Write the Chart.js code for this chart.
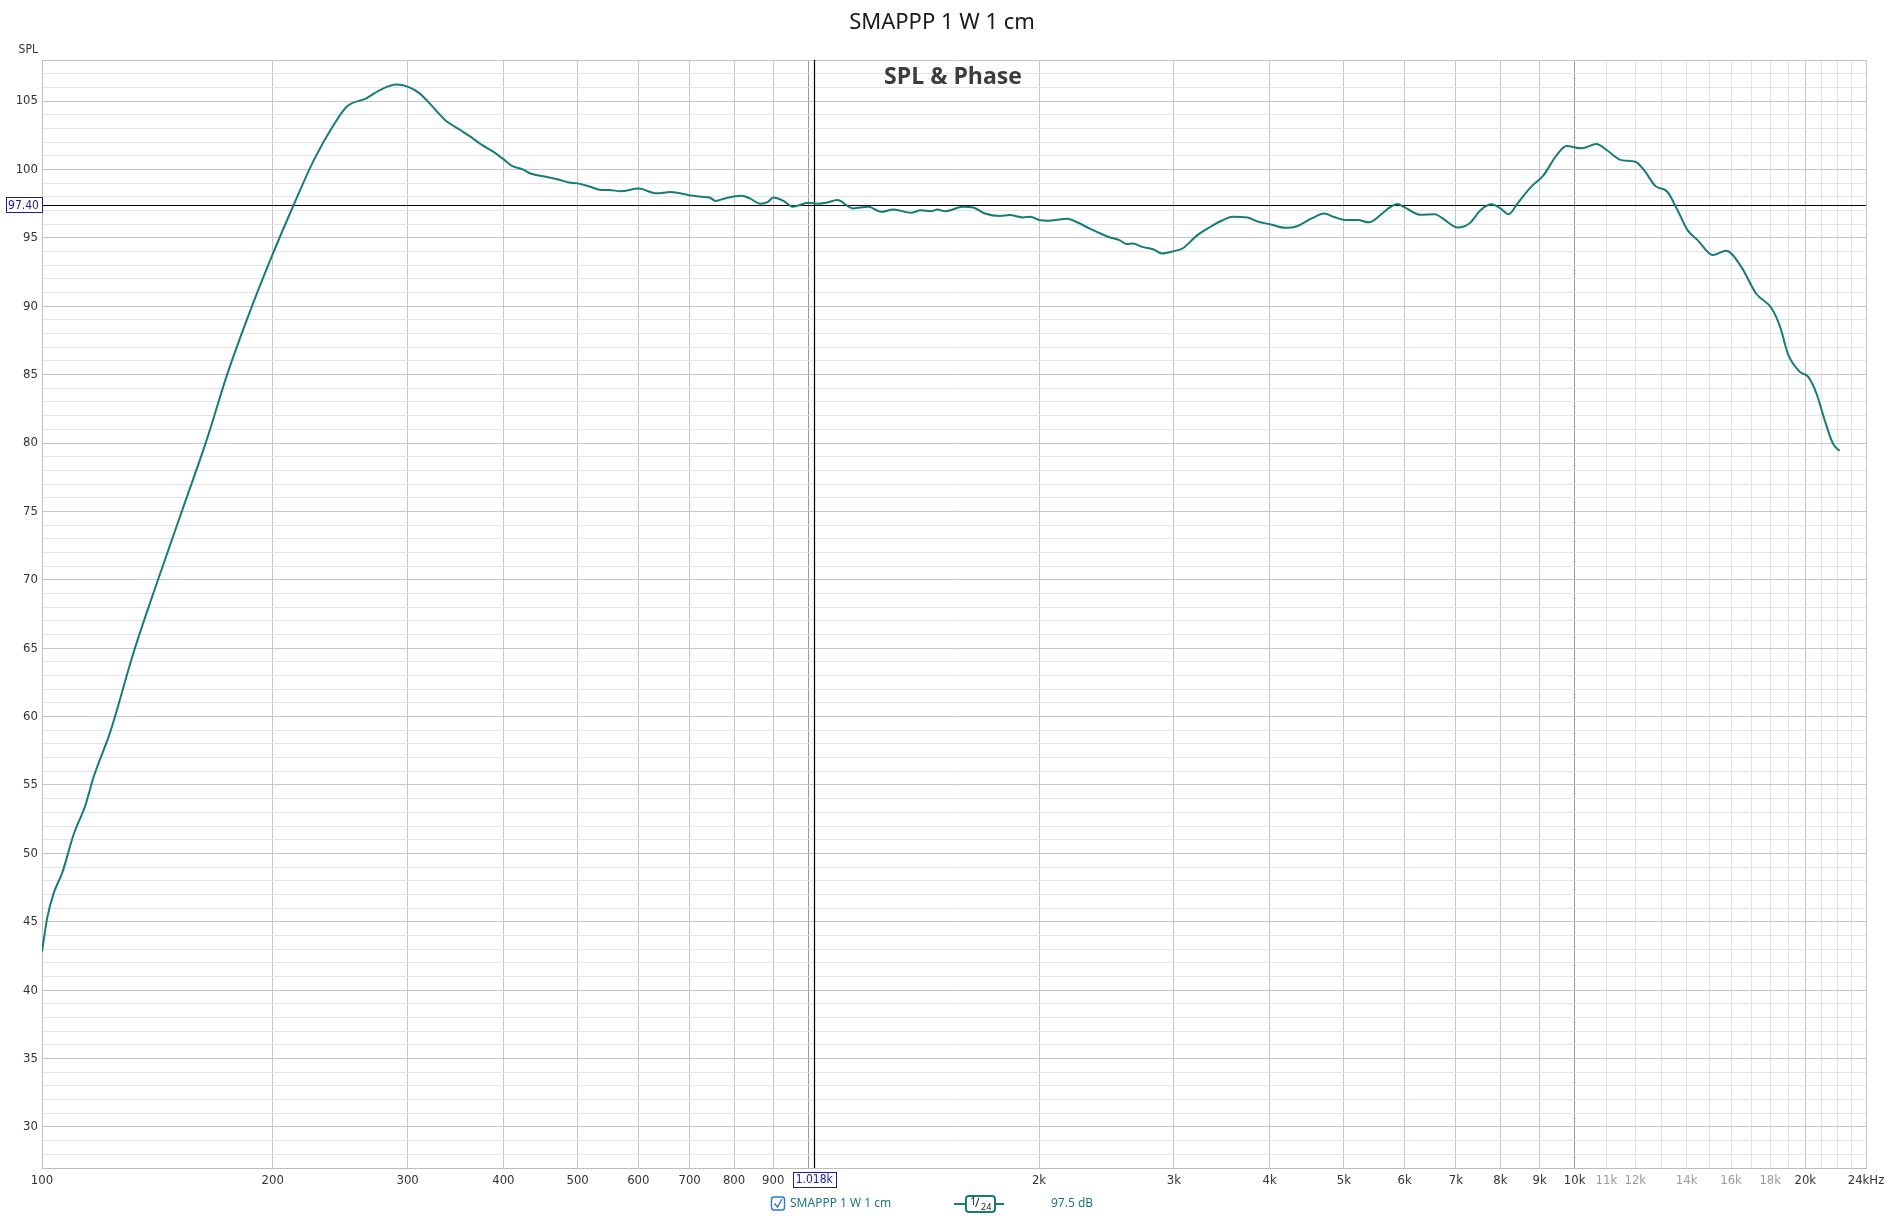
<!DOCTYPE html>
<html>
<head>
<meta charset="utf-8">
<title>SMAPPP 1 W 1 cm</title>
<script src="https://cdn.jsdelivr.net/npm/chart.js@4.4.1/dist/chart.umd.min.js"></script>
<style>
  html, body { margin: 0; padding: 0; background: #fff; }
  #wrap { width: 1886px; height: 1216px; }
</style>
</head>
<body>
<div id="wrap"><canvas id="spl" width="1886" height="1216"></canvas></div>
<script>
// SPL curve (Hz / dB)
const freqs = [100, 101.6, 103.6, 106.3, 110, 113.9, 116.8, 122.8, 131.7, 141.3,
  153.1, 164.2, 174.4, 185.3, 200, 213, 226.4, 240.5, 250, 265,
  276, 290, 300, 311, 322, 336, 351, 361, 375, 388,
  400, 411, 424, 434, 456, 473, 487, 500, 518, 537,
  550, 569, 600, 634, 661, 699, 725, 743, 757, 780,
  819, 839, 865, 886, 900, 928, 954, 1000, 1030, 1055,
  1091, 1144, 1198, 1245, 1291, 1361, 1403, 1447, 1473, 1509,
  1592, 1641, 1700, 1779, 1831, 1906, 1950, 2000, 2058, 2104,
  2175, 2250, 2327, 2460, 2547, 2605, 2651, 2728, 2823, 2895,
  3000, 3077, 3219, 3348, 3461, 3578, 3741, 3866, 4000, 4202,
  4343, 4537, 4716, 4847, 5033, 5210, 5392, 5611, 5739, 5870,
  6003, 6283, 6574, 6726, 7039, 7288, 7543, 7786, 8000, 8200,
  8426, 8760, 9110, 9474, 9760, 10214, 10680, 11010, 11510, 12000,
  12320, 12750, 13210, 13620, 14040, 14470, 15150, 15770, 16500, 17250,
  18080, 18540, 19010, 19680, 20180, 20680, 21200, 21730, 22170]
const spl = [42.8, 45.3, 47.1, 48.6, 51.4, 53.5, 55.6, 58.9, 64.7, 69.8,
  75.4, 80.3, 85.0, 89.1, 93.8, 97.4, 100.7, 103.3, 104.6, 105.2,
  105.8, 106.2, 106.05, 105.56, 104.7, 103.6, 102.9, 102.45, 101.8, 101.3,
  100.75, 100.25, 100.0, 99.7, 99.45, 99.25, 99.05, 98.98, 98.75, 98.5,
  98.5, 98.4, 98.6, 98.25, 98.35, 98.12, 98.0, 97.95, 97.7, 97.9,
  98.07, 97.88, 97.5, 97.63, 97.95, 97.7, 97.27, 97.56, 97.5, 97.56,
  97.76, 97.15, 97.27, 96.9, 97.07, 96.83, 97.02, 96.95, 97.07, 96.95,
  97.27, 97.22, 96.78, 96.6, 96.66, 96.49, 96.54, 96.3, 96.25, 96.3,
  96.39, 96.1, 95.69, 95.08, 94.83, 94.54, 94.59, 94.34, 94.15, 93.86,
  94.03, 94.22, 95.2, 95.81, 96.25, 96.54, 96.49, 96.17, 96.0, 95.73,
  95.85, 96.42, 96.78, 96.54, 96.3, 96.3, 96.13, 96.78, 97.22, 97.47,
  97.22, 96.69, 96.73, 96.42, 95.76, 96.05, 97.03, 97.45, 97.15, 96.73,
  97.52, 98.69, 99.59, 101.05, 101.71, 101.54, 101.86, 101.42, 100.68, 100.56,
  99.95, 98.78, 98.37, 97.03, 95.56, 94.83, 93.74, 94.05, 92.88, 90.93,
  89.83, 88.49, 86.42, 85.2, 84.83, 83.62, 81.66, 79.96, 79.42]

// frequency grid lines and their labels
const xGrid = [100, 200, 300, 400, 500, 600, 700, 800, 900,
  1000, 2000, 3000, 4000, 5000, 6000, 7000, 8000, 9000,
  10000, 11000, 12000, 13000, 14000, 15000, 16000, 17000, 18000, 19000,
  20000, 21000, 22000, 23000, 24000]
const xLabels = {100: '100', 200: '200', 300: '300', 400: '400', 500: '500', 600: '600',
  700: '700', 800: '800', 900: '900', 2000: '2k', 3000: '3k', 4000: '4k', 5000: '5k',
  6000: '6k', 7000: '7k', 8000: '8k', 9000: '9k', 10000: '10k', 11000: '11k',
  12000: '12k', 14000: '14k', 16000: '16k', 18000: '18k', 20000: '20k', 24000: '24kHz'}
const grayLabels = [11000, 12000, 14000, 16000, 18000]
const decades = [1000, 10000]

// cursor readout
const cursorFreq = 1018
const cursorSpl = 97.4
const cursorFreqText = '1.018k'
const cursorSplText = '97.40'
const legendName = 'SMAPPP 1 W 1 cm'
const legendValue = '97.5 dB'

const teal = '#167c78'
const navy = '#1c1c96'
const narrow = '"Liberation Sans Narrow", "DejaVu Sans Condensed", "Noto Sans", sans-serif'

// small framed readout label
function valueBox(ctx, text, cx, cy, minW) {
    const w = Math.max(minW, Math.ceil(ctx.measureText(text).width) + 5)
    const x = Math.round(cx - w / 2) + 0.5
    const y = Math.round(cy - 8) + 0.5
    ctx.fillStyle = '#fff'
    ctx.fillRect(x, y, w, 15)
    ctx.strokeStyle = navy
    ctx.lineWidth = 1
    ctx.strokeRect(x, y, w, 15)
    ctx.fillStyle = navy
    ctx.fillText(text, cx, cy)
}

const overlay = {
    id: 'overlay',
    beforeDatasetsDraw(chart) {
        const ctx = chart.ctx
        const a = chart.chartArea
        const cx = Math.round(chart.scales.x.getPixelForValue(cursorFreq)) + 0.5
        const cy = Math.round(chart.scales.y.getPixelForValue(cursorSpl)) + 0.5
        ctx.save()
        ctx.strokeStyle = '#000'
        ctx.lineWidth = 1.2
        ctx.beginPath()
        ctx.moveTo(a.left, cy); ctx.lineTo(a.right, cy)
        ctx.moveTo(cx, a.top); ctx.lineTo(cx, a.bottom)
        ctx.stroke()
        ctx.restore()
    },
    afterDraw(chart) {
        const ctx = chart.ctx
        const a = chart.chartArea
        const cx = chart.scales.x.getPixelForValue(cursorFreq)
        const cy = chart.scales.y.getPixelForValue(cursorSpl)
        ctx.save()

        // title
        ctx.fillStyle = '#1a1a1a'
        ctx.font = '22px "Noto Sans", sans-serif'
        ctx.textAlign = 'center'
        ctx.textBaseline = 'middle'
        ctx.fillText('SMAPPP 1 W 1 cm', 942, 23)

        // graph name
        ctx.fillStyle = '#3c3c3c'
        ctx.font = 'bold 23px "Open Sans", sans-serif'
        ctx.fillText('SPL & Phase', 953, 77)

        // axis name
        ctx.fillStyle = '#333'
        ctx.font = '12px ' + narrow
        ctx.textAlign = 'right'
        ctx.fillText('SPL', 38, 50)

        // cursor value boxes
        ctx.font = '12px ' + narrow
        ctx.textAlign = 'center'
        valueBox(ctx, cursorSplText, 23.5, cy + 0.5, 31)
        valueBox(ctx, cursorFreqText, cx, a.bottom + 12, 36)

        // legend: checkbox
        const ly = 1204
        ctx.strokeStyle = '#2a78d0'
        ctx.lineWidth = 1.4
        ctx.beginPath()
        ctx.roundRect(771.5, ly - 7, 13, 13, 2.5)
        ctx.stroke()
        ctx.beginPath()
        ctx.moveTo(774.5, ly - 0.5)
        ctx.lineTo(777.5, ly + 3)
        ctx.lineTo(782, ly - 5)
        ctx.stroke()

        ctx.fillStyle = teal
        ctx.font = '12px "Noto Sans", sans-serif'
        ctx.textAlign = 'left'
        ctx.fillText(legendName, 790, ly)

        // smoothing widget
        ctx.strokeStyle = teal
        ctx.lineWidth = 2
        ctx.beginPath()
        ctx.moveTo(954, ly); ctx.lineTo(1004, ly)
        ctx.stroke()
        ctx.fillStyle = '#fff'
        ctx.beginPath()
        ctx.roundRect(966, ly - 8, 29, 16, 3)
        ctx.fill()
        ctx.stroke()
        ctx.fillStyle = '#222'
        ctx.font = '11px "Noto Sans", sans-serif'
        ctx.fillText('1', 970, ly - 2)
        ctx.font = '12px "Noto Sans", sans-serif'
        ctx.fillText('/', 975, ly)
        ctx.font = '9px "Noto Sans", sans-serif'
        ctx.fillText('24', 981, ly + 3)

        ctx.fillStyle = teal
        ctx.font = '12px "Noto Sans", sans-serif'
        ctx.fillText(legendValue, 1051, ly)
        ctx.restore()
    }
}

new Chart(document.getElementById('spl'), {
    type: 'line',
    data: {
        datasets: [{
            data: freqs.map((f, i) => ({ x: f, y: spl[i] })),
            borderColor: teal,
            borderWidth: 2,
            pointRadius: 0,
            fill: false,
            cubicInterpolationMode: 'monotone'
        }]
    },
    options: {
        responsive: false,
        animation: false,
        events: [],
        layout: { padding: { top: 60, right: 20, bottom: 0, left: 0 } },
        plugins: { legend: { display: false }, tooltip: { enabled: false } },
        scales: {
            x: {
                type: 'logarithmic',
                min: 100,
                max: 24000,
                afterBuildTicks: (axis) => { axis.ticks = xGrid.map(v => ({ value: v })) },
                afterFit: (axis) => { axis.height = 48; axis.paddingRight = 0; axis.paddingLeft = 0 },
                border: { color: '#bdbdbd' },
                grid: {
                    drawTicks: false,
                    color: (c) => {
                        const v = c.tick ? c.tick.value : 0
                        if (decades.includes(v)) return '#9a9a9a'
                        if (v > 10000 && v !== 20000 && v !== 24000) return '#e2e2e2'
                        return '#c6c6c6'
                    }
                },
                ticks: {
                    autoSkip: false,
                    maxRotation: 0,
                    padding: 5,
                    font: { family: narrow, size: 13 },
                    color: (c) => grayLabels.includes(c.tick.value) ? '#9a9a9a' : '#333',
                    callback: (v) => xLabels[v] || ''
                }
            },
            y: {
                min: 27,
                max: 108,
                afterFit: (axis) => { axis.width = 42; axis.paddingTop = 0; axis.paddingBottom = 0 },
                border: { color: '#bdbdbd' },
                grid: {
                    drawTicks: false,
                    color: (c) => (c.tick && c.tick.value % 5 === 0) || (c.tick && c.tick.value === 108) ? '#c6c6c6' : '#e4e4e4'
                },
                ticks: {
                    stepSize: 1,
                    autoSkip: false,
                    padding: 4,
                    font: { family: narrow, size: 13 },
                    color: '#333',
                    callback: (v) => v % 5 === 0 ? String(v) : ''
                }
            }
        }
    },
    plugins: [overlay]
});
</script>
</body>
</html>
